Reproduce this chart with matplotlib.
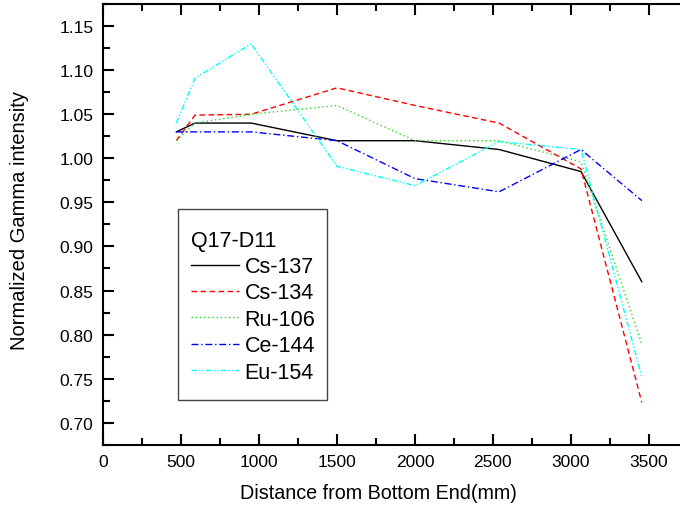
import matplotlib
matplotlib.use('Agg')
import matplotlib.pyplot as plt
from matplotlib.ticker import MultipleLocator
from matplotlib.patches import Rectangle

# distances (mm) and normalized intensities
x = [470, 590, 950, 1500, 2000, 2540, 3065, 3455]
cs137 = [1.030, 1.040, 1.040, 1.020, 1.020, 1.010, 0.985, 0.860]
cs134 = [1.020, 1.049, 1.050, 1.080, 1.060, 1.040, 0.988, 0.723]
ru106 = [1.020, 1.040, 1.050, 1.060, 1.020, 1.020, 0.996, 0.789]
ce144 = [1.030, 1.030, 1.030, 1.020, 0.977, 0.962, 1.010, 0.952]
eu154 = [1.040, 1.091, 1.130, 0.991, 0.969, 1.019, 1.010, 0.752]

plt.rcParams['font.family'] = ['Liberation Sans', 'DejaVu Sans']

fig = plt.figure(figsize=(6.8, 5.1), dpi=100)
ax = fig.add_axes([0.1515, 0.126, 0.8485, 0.864])

ax.plot(x, cs137, color='black', lw=1, ls='-', label='Cs-137')
ax.plot(x, cs134, color='red', lw=1, ls=(0, (4, 2.5)), label='Cs-134')
ax.plot(x, ru106, color='#22dd22', lw=1, ls=(0, (1, 2)), label='Ru-106')
ax.plot(x, ce144, color='blue', lw=1, ls=(0, (5, 2, 1, 2)), label='Ce-144')
ax.plot(x, eu154, color='cyan', lw=1, ls=(0, (4, 1.5, 1, 1.5, 1, 1.5)), label='Eu-154')

ax.set_xlim(0, 3700)
ax.set_ylim(0.675, 1.175)
ax.xaxis.set_major_locator(MultipleLocator(500))
ax.xaxis.set_minor_locator(MultipleLocator(250))
ax.yaxis.set_major_locator(MultipleLocator(0.05))
ax.yaxis.set_minor_locator(MultipleLocator(0.025))
ax.yaxis.set_major_formatter(plt.FormatStrFormatter('%.2f'))
ax.tick_params(which='both', direction='in', top=True, right=False, width=1.5)
ax.tick_params(which='major', length=8, labelsize=12.5, pad=7)
ax.tick_params(which='minor', length=5)
ax.spines['right'].set_visible(False)
for s in ['left', 'bottom', 'top']:
    ax.spines[s].set_linewidth(1.5)

ax.set_xlabel('Distance from Bottom End(mm)', fontsize=14.2)
ax.set_ylabel('Normalized Gamma intensity', fontsize=14.5)
ax.xaxis.set_label_coords(0.478, -0.087)
ax.yaxis.set_label_coords(-0.128, 0.512)

leg = ax.legend(title='Q17-D11', loc='upper left', bbox_to_anchor=(0.1525, 0.488),
                fontsize=15.5, title_fontsize=15.5, frameon=False,
                handlelength=2.23, handletextpad=0.25, labelspacing=0.25,
                borderpad=0, borderaxespad=0)
leg._legend_box.align = 'left'
ax.add_patch(Rectangle((0.130, 0.102), 0.258, 0.433, transform=ax.transAxes,
                       fill=False, edgecolor='#444444', lw=1, zorder=5))

fig.savefig('out.png', dpi=100)
